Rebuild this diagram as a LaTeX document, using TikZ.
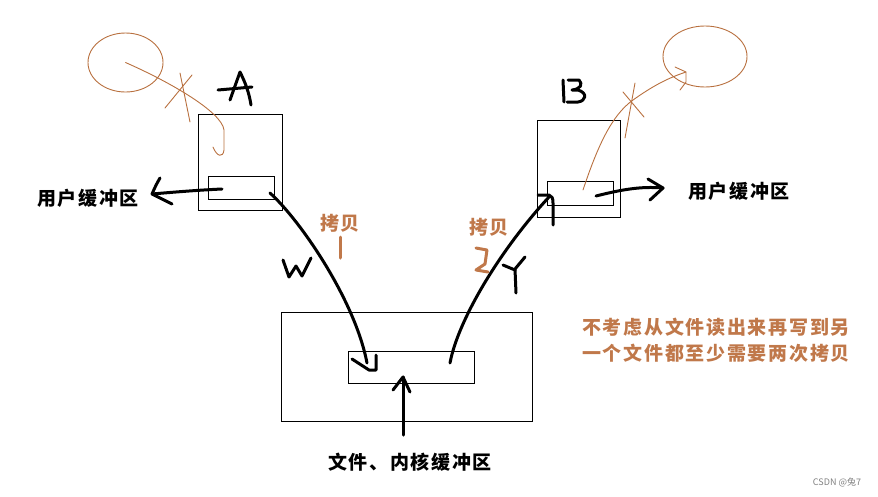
\documentclass[tikz,border=0pt]{standalone}
\usepackage{fontspec}
\newfontfamily\cjk{Noto Sans CJK SC}
\newfontfamily\cjkb{Noto Sans CJK SC}[LetterSpace=9]
\usetikzlibrary{calc,shapes.geometric}
\definecolor{pen}{HTML}{B8703F}
\definecolor{note}{HTML}{C0784A}
\begin{document}
\begin{tikzpicture}[x=1pt,y=-1pt,
  box/.style={draw,line width=0.9pt,inner sep=0pt},
  ink/.style={line width=3pt,line cap=round,line join=round},
  thin/.style={draw=pen,line width=0.9pt,line cap=round,line join=round},
  lbl/.style={font=\cjkb\bfseries\fontsize{19}{22}\selectfont,inner sep=0pt},
  nlbl/.style={font=\cjkb\bfseries\fontsize{19}{26}\selectfont,text=note,inner sep=0pt,align=center}]
\useasboundingbox (0,0) rectangle (878,496);
% boxes
\node[box,minimum width=84pt,minimum height=96pt] (Aout) at (240,162) {};
\node[box,minimum width=66pt,minimum height=23pt] (Ain) at (241,187.5) {};
\node[box,minimum width=83pt,minimum height=97pt] (Bout) at (578.5,168.5) {};
\node[box,minimum width=66pt,minimum height=24pt] (Bin) at (580,193) {};
\node[box,minimum width=251pt,minimum height=109pt] (Kout) at (406.5,366.5) {};
\node[box,minimum width=126pt,minimum height=32pt] (Kin) at (411,367) {};
% circles
\node[draw=pen,line width=0.9pt,ellipse,minimum width=75pt,minimum height=59pt,inner sep=0pt] (C1) at (125.5,62.5) {};
\node[draw=pen,line width=0.9pt,ellipse,minimum width=84pt,minimum height=61pt,inner sep=0pt] (C2) at (705,56.5) {};
% labels
\node[lbl] (uL) at (88,198) {用户缓冲区};
\node[lbl] (uR) at (739,191) {用户缓冲区};
\node[lbl] (kL) at (410,462) {文件、内核缓冲区};
\node[lbl,text=note] (c1) at (340,223) {拷贝};
\node[lbl,text=note] (c2) at (489,227) {拷贝};
\node[nlbl] (nt) at (716,340) {不考虑从文件读出来再写到另\\一个文件都至少需要两次拷贝};
\node[font=\cjk\fontsize{9}{10}\selectfont,text=gray,inner sep=0pt] (wm) at (837,482) {CSDN @兔7};
% coordinates
\coordinate (aS) at (222,189);
\coordinate (aT) at (152,194);
\coordinate (bS) at (596,196);
\coordinate (bT) at (663,188);
\coordinate (wS) at (270,193);
\coordinate (wT) at (367,363);
\coordinate (rS) at (450,363);
\coordinate (rT) at (549,197);
\coordinate (kS) at (403,435);
\coordinate (kT) at (403,377);
% letter A
\draw[ink] (230,100) -- (240,72) .. controls (245,82) and (249,92) .. (251,105);
\draw[ink] (218,90) -- (252,87);
% letter B
\draw[ink] (563,80) -- (564,102);
\draw[ink] (568,80) -- (579,80) .. controls (583,84) and (581,89) .. (572,90) -- (578,90) .. controls (588,93) and (586,101) .. (578,102) -- (567,102);
% arrows black
\draw[ink] (aS) .. controls (200,190) and (175,192) .. (aT);
\draw[ink] (160,178) .. controls (156,185) .. (aT) -- (172,204);
\draw[ink] (bS) .. controls (620,190) and (640,186) .. (bT);
\draw[ink] (648,179) -- (bT) -- (650,200);
\draw[ink] (wS) .. controls (300,220) and (355,300) .. (wT);
\draw[ink] (352,359) -- (369,370) -- (376,370) -- (376,355);
\draw[ink] (rS) .. controls (458,320) and (500,250) .. (rT);
\draw[ink] (538,195) -- (549,195) .. controls (552,196) and (553,198) .. (553,203) -- (553,225);
\draw[ink] (kS) -- (kT);
\draw[ink] (393,390) -- (kT) -- (410,392);
% W and Y
\draw[ink] (283,260) -- (289,277) -- (296,266) -- (302,276) -- (311,258);
\draw[ink] (503,265) -- (515,270);
\draw[ink] (525,257) -- (515,269) -- (516,293);
% orange pen numbers
\draw[ink,draw=note] (340,237) -- (340,258);
\draw[ink,draw=note] (476,248) -- (487,250) -- (485,264) -- (476,270) -- (488,272);
% orange thin lines
\draw[thin] (C1.center) .. controls (170,82) and (222,112) .. (224,130) -- (224,150) .. controls (223,158) and (217,157) .. (213,147);
\draw[thin] (180,73) -- (190,122);
\draw[thin] (192,75) -- (165,108);
\draw[thin] (583,190) .. controls (598,145) and (612,115) .. (633,100) .. controls (650,88) and (665,79) .. (686,72);
\draw[thin] (675,67) -- (686,72) -- (686,82) -- (680,90);
\draw[thin] (623,92) -- (644,117);
\draw[thin] (635,83) -- (625,138);
\end{tikzpicture}
\end{document}
